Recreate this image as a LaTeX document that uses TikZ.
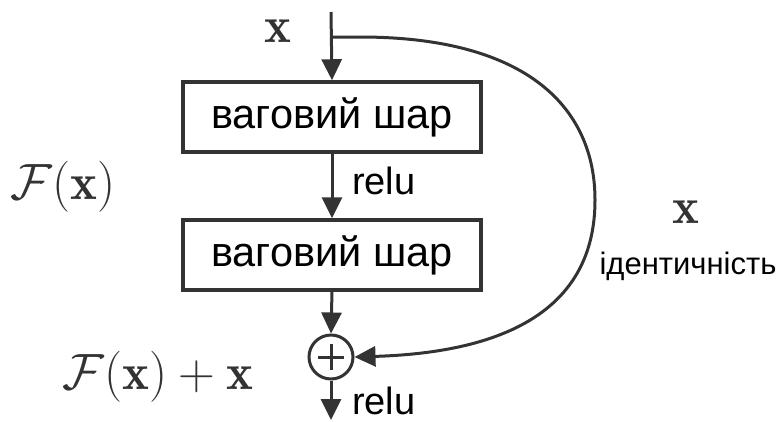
\RequirePackage{fix-cm}
\documentclass[tikz,border=0pt]{standalone}
\usepackage{fontspec}
\usepackage{amsmath}
\newfontfamily\labelfont{Liberation Sans}
\usetikzlibrary{arrows.meta}
\definecolor{ink}{HTML}{333333}
\tikzset{
  layerbox/.style={draw=ink, line width=3.5pt, fill=white, minimum width=298pt, minimum height=70pt,
    inner sep=0pt, font=\labelfont\fontsize{41.5}{45}\selectfont},
  flow/.style={draw=ink, line width=3pt, -{Triangle[width=20pt,length=21pt]}},
  mathlbl/.style={text=ink, font=\fontsize{51}{55}\selectfont, inner sep=0pt},
  smalllbl/.style={text=black, font=\labelfont\fontsize{38}{42}\selectfont, inner sep=0pt},
}
\begin{document}
\begin{tikzpicture}[x=1pt, y=-1pt]
  \useasboundingbox (0,0) rectangle (779,421);
  % two weight layers
  \node[layerbox] (l1) at (332,117) {ваговий шар};
  \node[layerbox] (l2) at (332,255) {ваговий шар};
  % summation node
  \node[circle, draw=ink, line width=3pt, minimum size=44pt, inner sep=0pt] (sum) at (331,357) {};
  \draw[ink, line width=3pt] ([xshift=-13pt]sum.center) -- ([xshift=13pt]sum.center)
                             ([yshift=-13pt]sum.center) -- ([yshift=13pt]sum.center);
  % input and output coordinates
  \coordinate (in) at (331,12);
  \coordinate (split) at (331,37);
  \coordinate (out) at (331,420);
  % main path
  \draw[flow] (in) -- (l1.north);
  \draw[flow] (l1.south) -- (l2.north);
  \draw[flow] (l2.south) -- (sum.north);
  \draw[flow] (sum.south) -- (out);
  % identity shortcut
  \draw[flow] (split) -- (360,37) .. controls (530,37) and (595,110) .. (595,200)
     .. controls (595,300) and (520,352) .. (sum.east);
  % labels
  \node[mathlbl] (xin) at (278,31) {$\mathbf{x}$};
  \node[mathlbl] (fx) at (63,187) {$\mathcal{F}(\mathbf{x})$};
  \node[mathlbl] (fxx) at (158,377) {$\mathcal{F}(\mathbf{x})+\mathbf{x}$};
  \node[mathlbl] (xid) at (686,212) {$\mathbf{x}$};
  \node[smalllbl, font=\labelfont\fontsize{31}{34}\selectfont] (idt) at (688,266) {ідентичність};
  \node[smalllbl, anchor=base west] (r1) at (352,194) {relu};
  \node[smalllbl, anchor=base west] (r2) at (352,414) {relu};
\end{tikzpicture}
\end{document}
